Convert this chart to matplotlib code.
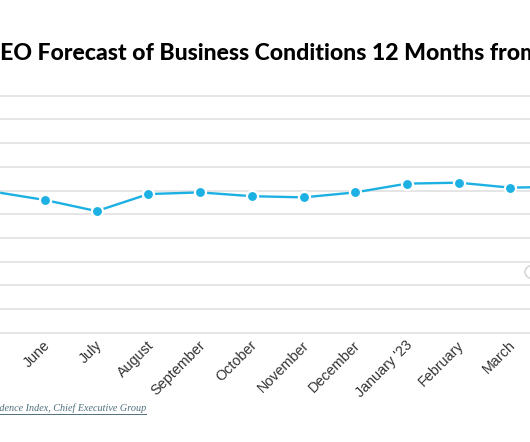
import matplotlib
matplotlib.use("Agg")
import matplotlib.pyplot as plt
import matplotlib.transforms as mtransforms
from matplotlib.patches import Circle
from matplotlib.lines import Line2D

# ------------------------------------------------------------------------- #
months = ["May", "June", "July", "August", "September", "October", "November",
          "December", "January '23", "February", "March", "April"]
forecast = [5.95, 5.60, 5.13, 5.85, 5.92, 5.76, 5.71, 5.92, 6.29, 6.33, 6.12, 6.16]
y_ticks = [0, 1, 2, 3, 4, 5, 6, 7, 8, 9, 10]

title = "CEO Forecast of Business Conditions 12 Months from Now"
source = "Source: CEO Confidence Index, Chief Executive Group"

W, H = 530, 442
line_col = "#1db0e2"
grid_col = "#e3e3e3"
title_font = "Lato"

# ------------------------------------------------------------------------- #
fig = plt.figure(figsize=(W / 100, H / 100), dpi=100)
fig.patch.set_facecolor("white")

# axes placed in pixels: grid from y=95.7 (10) to y=332.7 (0)
top_px, bot_px = 95.7, 332.7
unit = (bot_px - top_px) / 10.0
ylo, yhi = -0.15, 10.15
ax_top = top_px - (yhi - 10) * unit
ax_bot = bot_px + (0 - ylo) * unit
ax = fig.add_axes([0, (H - ax_bot) / H, 1, (ax_bot - ax_top) / H])

x = list(range(len(months)))

ax.plot(x, forecast, color=line_col, lw=1.7, marker="o", ms=8,
        mfc=line_col, mec="white", mew=1.6, zorder=3)

ax.set_yticks(y_ticks)
ax.set_yticklabels([])
ax.grid(True, axis="y", color=grid_col, lw=1.3)
ax.tick_params(axis="both", length=0)
for s in ax.spines.values():
    s.set_visible(False)

ax.set_xticks(x)
ax.set_xticklabels(months, rotation=45, ha="right", va="center",
                   rotation_mode="anchor", fontsize=10.4,
                   family="Liberation Sans", color="#333333")
ax.tick_params(axis="x", pad=5)
shift = mtransforms.ScaledTranslation(3 / 100, 0, fig.dpi_scale_trans)
for lab in ax.get_xticklabels():
    lab.set_transform(lab.get_transform() + shift)

# visible window of the crop: June sits at x=45px, 51.7px per month
step = 51.7
x0_px = -6.7
ax.set_xlim((0 - x0_px) / step, (W - x0_px) / step)
ax.set_ylim(ylo, yhi)

# ------------------------------------------------------------------------- #
r = fig.canvas.get_renderer()

# title, cropped on both sides like the reference
t = fig.text(0, 0, "EO Forecast of Business Conditions 12 Months fro",
             fontsize=15, family=title_font, weight="black")
fw = t.get_window_extent(r).width
t.remove()
fs = 15 * 522 / fw
t = fig.text(0, 0, "C", fontsize=fs, family=title_font, weight="black")
cw = t.get_window_extent(r).width
t.remove()
fig.text(-cw / W, (H - 60) / H, title, fontsize=fs, family=title_font,
         weight="black", color="black", ha="left", va="baseline")

# source line, underlined, cropped on the left
st = fig.text(146 / W, (H - 411) / H, source, fontsize=7.3,
              family="Liberation Serif", style="italic", color="#4f6f7c",
              ha="right", va="baseline")
bb = st.get_window_extent(r)
fig.add_artist(Line2D([bb.x0 / W, bb.x1 / W], [(H - 413.5) / H] * 2,
                      color="#4f6f7c", lw=0.7))

# faint circle at right edge
fig.add_artist(Circle((533 / W, (H - 272) / H), 8 / W, transform=fig.transFigure,
                      fill=False, ec="#d8d8d8", lw=1.2))

fig.savefig("out.png", dpi=100)
